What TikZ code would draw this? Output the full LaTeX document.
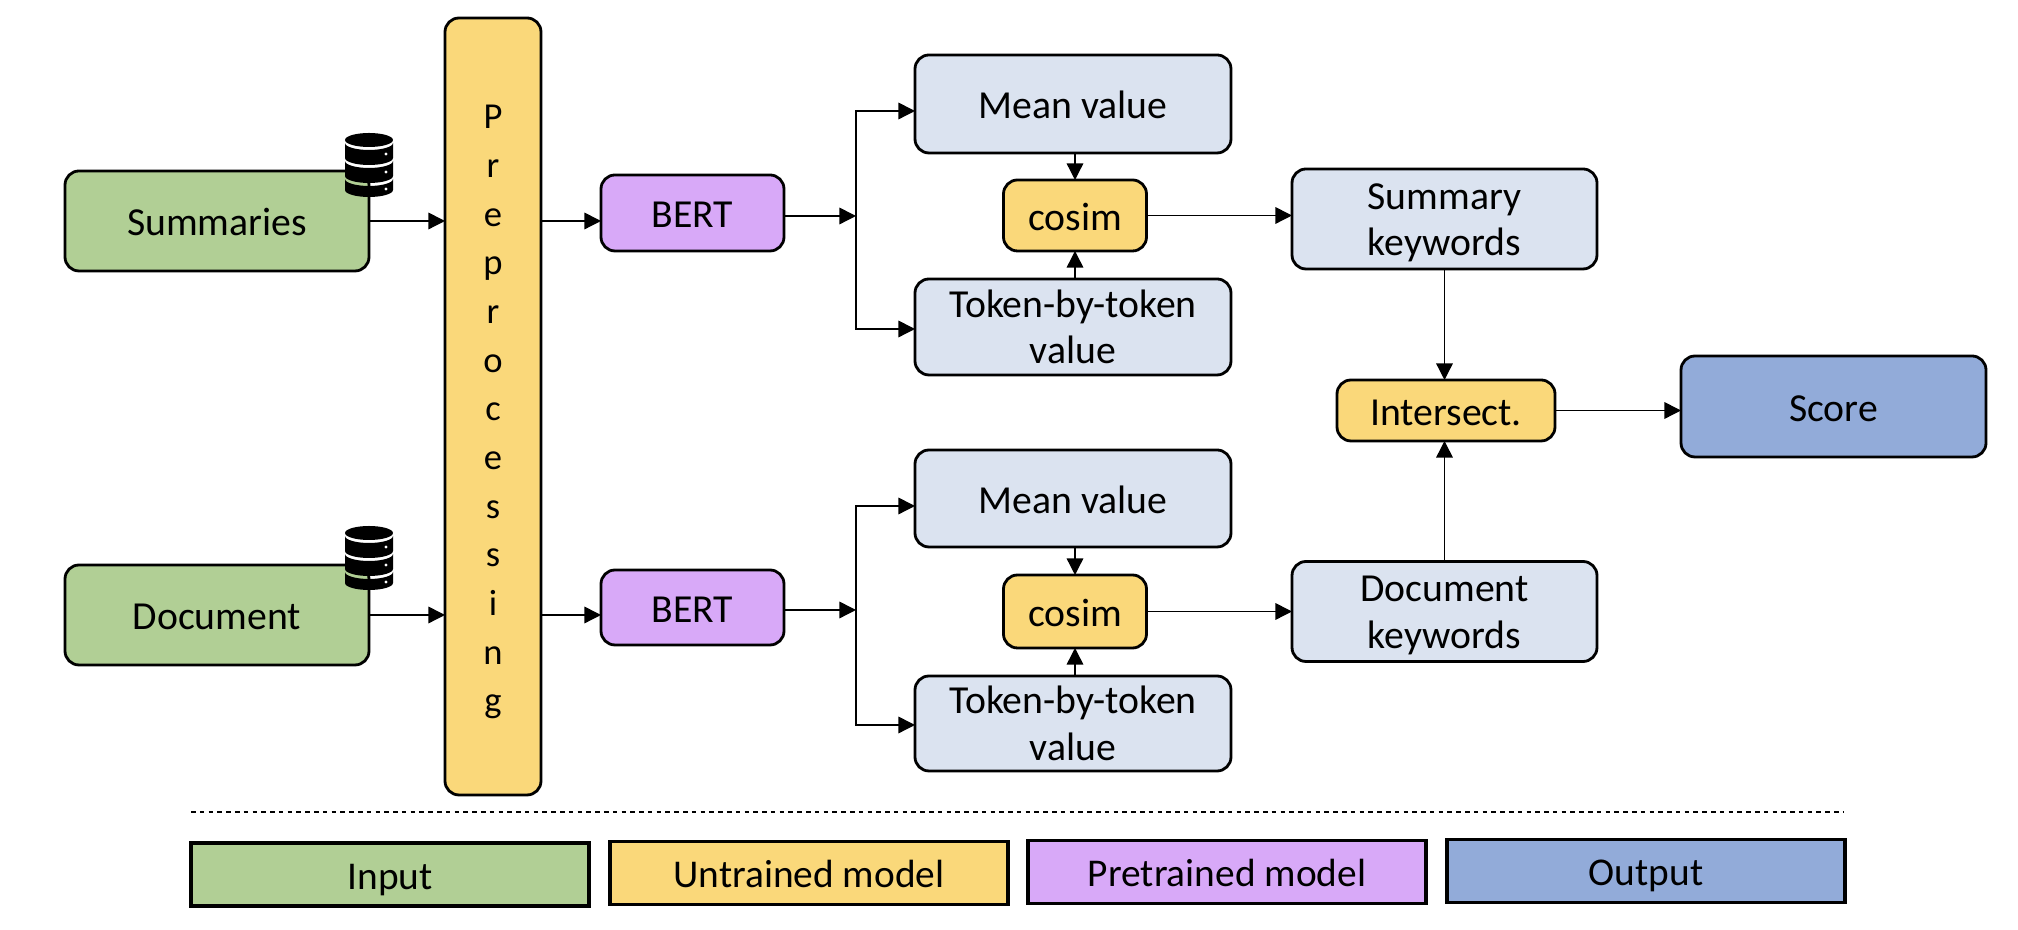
\documentclass[tikz,border=0pt]{standalone}
\usepackage{fontspec}
\setmainfont{Carlito}
\usetikzlibrary{arrows.meta}
\definecolor{inputgreen}{HTML}{B1CF95}
\definecolor{untrainedyellow}{HTML}{FAD87A}
\definecolor{pretrainedpurple}{HTML}{D8A9F8}
\definecolor{valueblue}{HTML}{DBE3F0}
\definecolor{outputblue}{HTML}{92ABD9}
\tikzset{
  box/.style={draw=black,line width=0.8pt,rounded corners=1.4mm,outer sep=0pt,inner sep=0pt,
    align=center,font=\fontsize{11.3}{13.3pt}\selectfont,text height=10.4pt,text depth=2pt},
  twolines/.style={text height=23pt,text depth=2pt},
  legendbox/.style={draw=black,line width=0.95pt,outer sep=0pt,inner sep=0pt,
    minimum width=39.8mm,minimum height=6.3mm,font=\fontsize{11.2}{13pt}\selectfont,
    text height=10.4pt,text depth=2pt},
  pics/dbstack/.style={code={
    \fill (0,-25) ellipse[x radius=2.4mm,y radius=0.7mm];
    \fill (-24,-22) arc[start angle=180,end angle=360,x radius=2.4mm,y radius=0.7mm]
      -- (24,-7) arc[start angle=0,end angle=-180,x radius=2.4mm,y radius=0.7mm] -- cycle;
    \fill (-24,-4) arc[start angle=180,end angle=360,x radius=2.4mm,y radius=0.7mm]
      -- (24,11) arc[start angle=0,end angle=-180,x radius=2.4mm,y radius=0.7mm] -- cycle;
    \fill (-24,14) arc[start angle=180,end angle=360,x radius=2.4mm,y radius=0.7mm]
      -- (24,25) arc[start angle=0,end angle=-180,x radius=2.4mm,y radius=0.7mm] -- cycle;
    \fill[white] (17,-11) circle[radius=0.16mm];
    \fill[white] (17,7) circle[radius=0.16mm];
    \fill[white] (17,24) circle[radius=0.16mm];
  }}
}
\begin{document}
\begin{tikzpicture}[x=0.1mm,y=-0.1mm]
      \useasboundingbox (0,0) rectangle (2018,930);
      \node[box,fill=inputgreen,minimum width=30.4mm,minimum height=10mm] (summaries) at (217,221) {Summaries};
      \node[box,fill=inputgreen,minimum width=30.4mm,minimum height=10mm] (document) at (217,615) {Document};
      \node[box,fill=untrainedyellow,minimum width=9.6mm,minimum height=77.7mm,
        font=\fontsize{10.4}{13.85pt}\selectfont,text height=176.3pt,text depth=2pt] (prep) at (493,406.5)
        {P\\r\\e\\p\\r\\o\\c\\e\\s\\s\\i\\n\\g};
      \node[box,fill=pretrainedpurple,minimum width=18.3mm,minimum height=7.6mm] (bertA) at (692.5,213) {BERT};
      \node[box,fill=pretrainedpurple,minimum width=18.3mm,minimum height=7.5mm] (bertB) at (692.5,607.5) {BERT};
      \node[box,fill=valueblue,minimum width=31.6mm,minimum height=9.8mm] (meanA) at (1073,104) {Mean value};
      \node[box,fill=untrainedyellow,minimum width=14.3mm,minimum height=7.1mm] (cosimA) at (1075,215.5) {cosim};
      \node[box,twolines,fill=valueblue,minimum width=31.6mm,minimum height=9.6mm] (tokenA) at (1073,327) {Token-by-token\\value};
      \node[box,fill=valueblue,minimum width=31.6mm,minimum height=9.7mm] (meanB) at (1073,498.5) {Mean value};
      \node[box,fill=untrainedyellow,minimum width=14.3mm,minimum height=7.3mm] (cosimB) at (1075,611.5) {cosim};
      \node[box,twolines,fill=valueblue,minimum width=31.6mm,minimum height=9.5mm] (tokenB) at (1073,723.5) {Token-by-token\\value};
      \node[box,twolines,fill=valueblue,minimum width=30.5mm,minimum height=10mm] (keywordsA) at (1444.5,219) {Summary\\keywords};
      \node[box,twolines,fill=valueblue,minimum width=30.5mm,minimum height=10mm] (keywordsB) at (1444.5,611.5) {Document\\keywords};
      \node[box,fill=untrainedyellow,minimum width=21.8mm,minimum height=6.1mm] (intersect) at (1446,410.5) {Intersect.};
      \node[box,fill=outputblue,minimum width=30.5mm,minimum height=10.1mm] (score) at (1833.5,406.5) {Score};
      \node[legendbox,fill=inputgreen] (input) at (390,874.5) {Input};
      \node[legendbox,fill=untrainedyellow] (untrained) at (809,873) {Untrained model};
      \node[legendbox,fill=pretrainedpurple] (pretrained) at (1227,872) {Pretrained model};
      \node[legendbox,fill=outputblue] (output) at (1646,871) {Output};
      \pic at (369,165) {dbstack};
      \pic at (369,558) {dbstack};
      \coordinate (branchA) at (856,216);
      \coordinate (branchB) at (856,610);
      \coordinate (dashL) at (191,812);
      \coordinate (dashR) at (1844,812);
      \draw[line width=0.3pt,dash pattern=on 1.3pt off 1.2pt] (dashL) -- (dashR);
      \begin{scope}[line width=0.4pt,-{Triangle[length=4.7pt,width=4.7pt]}]
        \draw (summaries.east) -- (summaries.east -| prep.west);
        \draw (document.east) -- (document.east -| prep.west);
        \draw (prep.east |- summaries.east) -- (bertA.west |- summaries.east);
        \draw (prep.east |- document.east) -- (bertB.west |- document.east);
        \draw (bertA.east |- branchA) -- (branchA);
        \draw (bertB.east |- branchB) -- (branchB);
        \draw (branchA) |- ([yshift=-0.7mm]meanA.west);
        \draw (branchA) |- ([yshift=-0.2mm]tokenA.west);
        \draw (branchB) |- ([yshift=-0.75mm]meanB.west);
        \draw (branchB) |- ([yshift=-0.15mm]tokenB.west);
        \draw (meanA.south -| cosimA) -- (cosimA.north);
        \draw (tokenA.north -| cosimA) -- (cosimA.south);
        \draw (meanB.south -| cosimB) -- (cosimB.north);
        \draw (tokenB.north -| cosimB) -- (cosimB.south);
        \draw (cosimA.east) -- (cosimA.east -| keywordsA.west);
        \draw (cosimB.east) -- (cosimB.east -| keywordsB.west);
        \draw (keywordsA.south) -- (keywordsA.south |- intersect.north);
        \draw (keywordsB.north) -- (keywordsB.north |- intersect.south);
        \draw (intersect.east) -- (intersect.east -| score.west);
      \end{scope}
    \end{tikzpicture}
\end{document}
